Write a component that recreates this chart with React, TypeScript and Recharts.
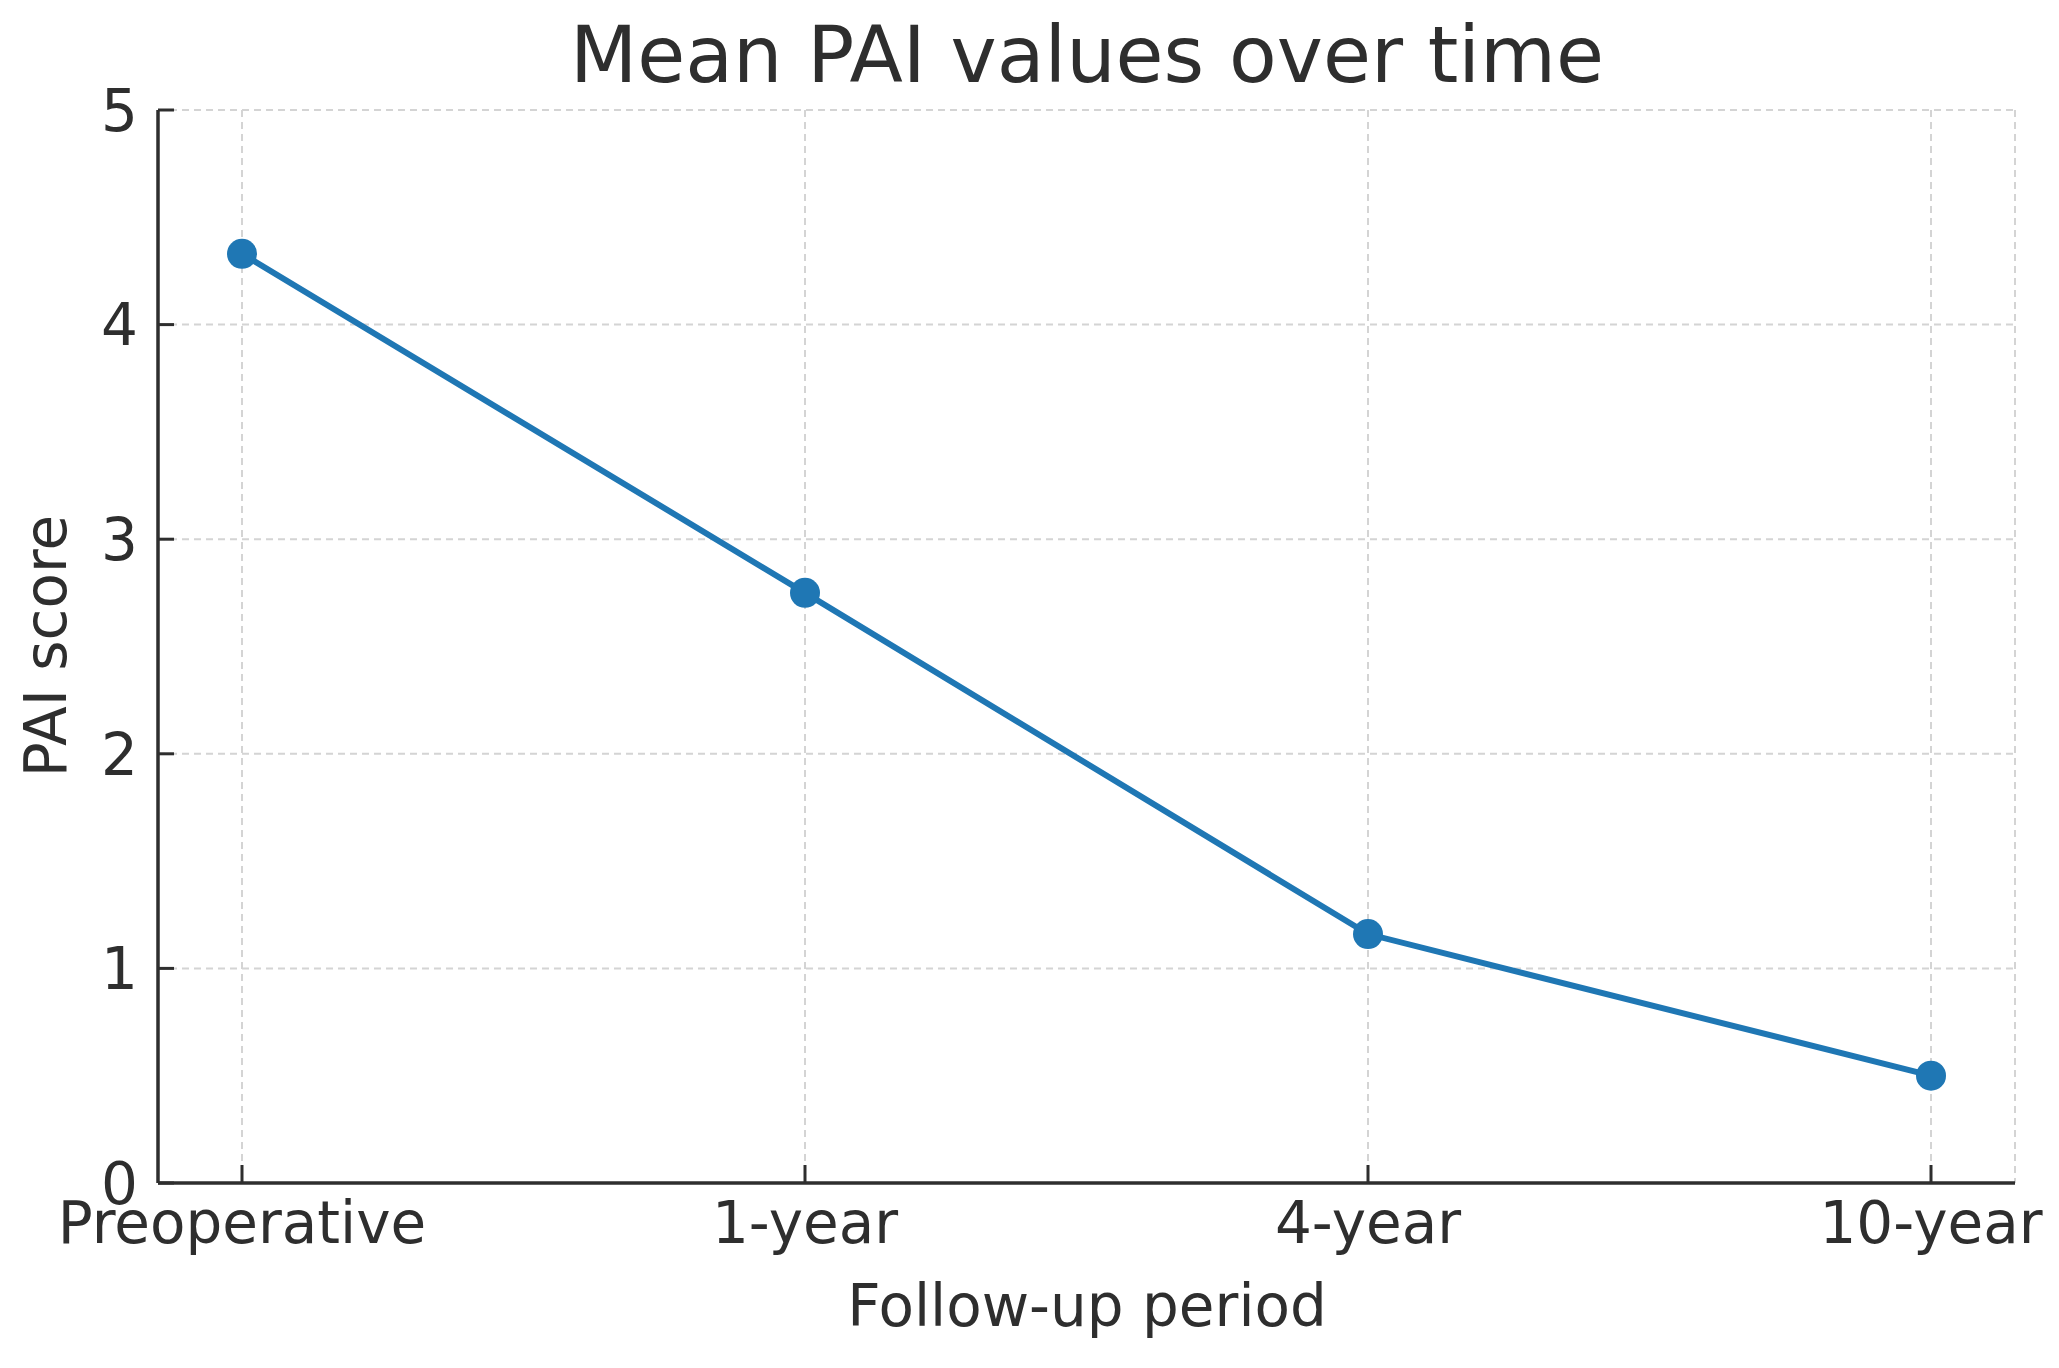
import { LineChart, Line, XAxis, YAxis, CartesianGrid } from "recharts";

const periods = ["Preoperative", "1-year", "4-year", "10-year"];
const meanPai = [4.33, 2.75, 1.16, 0.5];
const yTicks = [0, 1, 2, 3, 4, 5];

const data = periods.map((p, i) => ({ period: p, pai: meanPai[i] }));

const W = 2059;
const H = 1368;
const ink = "#2e2e2e";
const font = "'DejaVu Sans', sans-serif";

const XTick = (props: any) => {
  const { x, y, payload } = props;
  return (
    <g>
      <line x1={x} x2={x} y1={y} y2={y - 18} stroke={ink} strokeWidth={3} />
      <text x={x} y={y + 60} textAnchor="middle" fill={ink} fontSize={58} fontFamily={font}>
        {payload.value}
      </text>
    </g>
  );
};

const YTick = (props: any) => {
  const { x, y, payload } = props;
  return (
    <g>
      <line x1={x} x2={x + 16} y1={y} y2={y} stroke={ink} strokeWidth={3} />
      <text x={x - 20} y={y} dy="0.36em" textAnchor="end" fill={ink} fontSize={58} fontFamily={font}>
        {payload.value}
      </text>
    </g>
  );
};

export default function App() {
  return (
    <div style={{ position: "absolute", left: 0, top: 0, width: W, height: H, background: "#fff" }}>
      <LineChart
        width={W}
        height={H}
        data={data}
        margin={{ top: 110, right: 44, bottom: 0, left: 0 }}
      >
        <CartesianGrid stroke="#d4d4d4" strokeWidth={2} strokeDasharray="7 5" />
        <XAxis
          dataKey="period"
          height={185}
          padding={{ left: 84, right: 84 }}
          axisLine={{ stroke: ink, strokeWidth: 3.5 }}
          tickLine={false}
          tickSize={0}
          tickMargin={0}
          tick={<XTick />}
          interval={0}
        />
        <YAxis
          width={158}
          domain={[0, 5]}
          ticks={yTicks}
          type="number"
          axisLine={{ stroke: ink, strokeWidth: 3.5 }}
          tickLine={false}
          tickSize={0}
          tickMargin={0}
          tick={<YTick />}
          interval={0}
        />
        <Line
          dataKey="pai"
          stroke="#1f77b4"
          strokeWidth={6}
          dot={{ r: 15, fill: "#1f77b4", stroke: "#1f77b4", strokeWidth: 0 }}
          activeDot={false}
          isAnimationActive={false}
        />
      </LineChart>
      <svg
        width={W}
        height={H}
        style={{ position: "absolute", left: 0, top: 0, pointerEvents: "none" }}
      >
        <text x={1087} y={82} textAnchor="middle" fill={ink} fontSize={78} fontFamily={font}>
          Mean PAI values over time
        </text>
        <text x={1087} y={1326} textAnchor="middle" fill={ink} fontSize={58} fontFamily={font}>
          Follow-up period
        </text>
        <text
          x={66}
          y={646}
          textAnchor="middle"
          fill={ink}
          fontSize={58}
          fontFamily={font}
          transform="rotate(-90 66 646)"
        >
          PAI score
        </text>
      </svg>
    </div>
  );
}
